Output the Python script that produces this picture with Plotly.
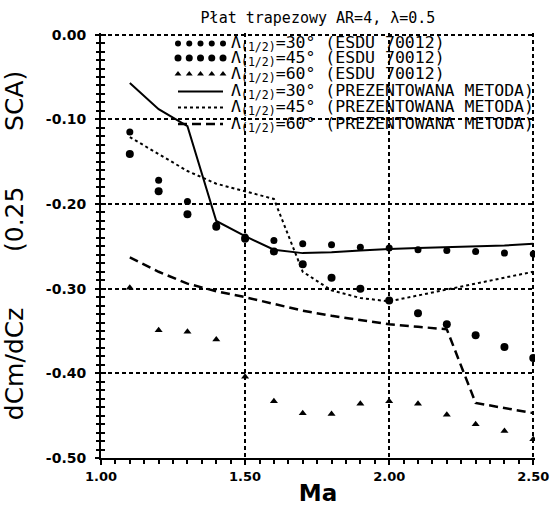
import plotly.graph_objects as go

mach = [1.1, 1.2, 1.3, 1.4, 1.5, 1.6, 1.7, 1.8, 1.9, 2.0, 2.1, 2.2, 2.3, 2.4, 2.5]

esdu_30 = [-0.115, -0.172, -0.197, -0.225, -0.239, -0.243, -0.247, -0.248,
           -0.251, -0.252, -0.254, -0.255, -0.256, -0.258, -0.259]
esdu_45 = [-0.141, -0.185, -0.212, -0.227, -0.241, -0.256, -0.271, -0.287,
           -0.300, -0.314, -0.329, -0.342, -0.355, -0.369, -0.382]
esdu_60 = [-0.299, -0.349, -0.351, -0.360, -0.404, -0.433, -0.447, -0.448,
           -0.436, -0.433, -0.436, -0.449, -0.460, -0.468, -0.478]

method_30 = [-0.057, -0.088, -0.108, -0.220, -0.238, -0.254, -0.258, -0.257,
             -0.255, -0.253, -0.252, -0.251, -0.250, -0.249, -0.247]
method_45 = [-0.121, -0.141, -0.161, -0.176, -0.185, -0.194, -0.280, -0.302,
             -0.311, -0.315, -0.308, -0.301, -0.294, -0.287, -0.280]
method_60 = [-0.263, -0.280, -0.294, -0.303, -0.310, -0.318, -0.326, -0.332,
             -0.337, -0.342, -0.345, -0.348, -0.435, -0.441, -0.447]

x_tickvals = [1.0, 1.5, 2.0, 2.5]
x_ticktext = ["1.00", "1.50", "2.00", "2.50"]
y_tickvals = [0.0, -0.1, -0.2, -0.3, -0.4, -0.5]
y_ticktext = ["0.00", "-0.10", "-0.20", "-0.30", "-0.40", "-0.50"]

sweep_labels = ["30", "45", "60", "30", "45", "60"]
source_labels = ["ESDU 70012", "ESDU 70012", "ESDU 70012",
                 "PREZENTOWANA METODA", "PREZENTOWANA METODA", "PREZENTOWANA METODA"]

NB = "\u00a0"
MONO = "DejaVu Sans Mono, monospace"
SANS = "DejaVu Sans, sans-serif"

X_RANGE = [1.0, 2.506]
Y_RANGE = [-0.5, 0.002]

# ---- legend layout (overlay axes in pixel-like units) ----
leg_rows = [43.5, 58, 74, 91.5, 107.5, 124]
leg_x0, leg_x1 = 178, 223
leg_text_x = 230

fig = go.Figure()

# data
marker_styles = [dict(symbol="circle", size=7), dict(symbol="circle", size=8),
                 dict(symbol="triangle-up", size=7)]
for vals, ms in zip([esdu_30, esdu_45, esdu_60], marker_styles):
    fig.add_trace(go.Scatter(x=mach, y=vals, mode="markers", showlegend=False,
                             marker=dict(color="black", line=dict(width=0), **ms)))
line_styles = [dict(width=2), dict(width=2, dash="3px,3px"), dict(width=2.5, dash="9px,5px")]
for vals, ls in zip([method_30, method_45, method_60], line_styles):
    fig.add_trace(go.Scatter(x=mach, y=vals, mode="lines", showlegend=False,
                             line=dict(color="black", **ls)))

# legend samples
for i, ms in enumerate(marker_styles):
    xs = [leg_x0 + k * (leg_x1 - leg_x0) / 4 for k in range(5)]
    fig.add_trace(go.Scatter(x=xs, y=[leg_rows[i]] * 5, mode="markers", showlegend=False,
                             xaxis="x2", yaxis="y2", hoverinfo="skip",
                             marker=dict(color="black", **dict(ms, size=ms["size"] - 1))))
for i, ls in enumerate(line_styles):
    fig.add_trace(go.Scatter(x=[leg_x0, leg_x1], y=[leg_rows[3 + i]] * 2, mode="lines",
                             showlegend=False, xaxis="x2", yaxis="y2", hoverinfo="skip",
                             line=dict(color="black", **ls)))

annotations = []
for i in range(6):
    annotations.append(dict(
        x=leg_text_x, y=leg_rows[i], xref="x2", yref="y2", xanchor="left", yanchor="middle",
        showarrow=False, borderpad=0,
        text=f"Λ<sub>(1/2)</sub>={sweep_labels[i]}°{NB}({source_labels[i].replace(' ', NB)})",
        font=dict(family=MONO, size=16.5, color="black")))

# dummy invisible trace to activate yaxis3 (inner ticks)
fig.add_trace(go.Scatter(x=[1.0], y=[-0.5], yaxis="y3", mode="markers", showlegend=False,
                         marker=dict(opacity=0), hoverinfo="skip"))

fig.update_layout(
    width=550, height=506,
    margin=dict(l=101, r=15, t=33, b=48, autoexpand=False),
    paper_bgcolor="white", plot_bgcolor="white",
    font=dict(family=SANS, color="black"),
    title=dict(text=f"Płat{NB}trapezowy{NB}AR=4,{NB}λ=0.5", font=dict(family=MONO, size=15, color="black"),
               xref="paper", x=0.5, xanchor="center", yref="container", y=1 - 18 / 506, yanchor="middle"),
    showlegend=False,
    hovermode=False,
    annotations=annotations,
    xaxis=dict(
        range=X_RANGE, tickvals=x_tickvals, ticktext=x_ticktext, automargin=False,
        tickfont=dict(size=13, color="black", family=SANS, weight="bold"),
        showline=True, linecolor="black", linewidth=2,
        ticks="outside", ticklen=5, tickwidth=2, tickcolor="black",
        minor=dict(dtick=0.05, ticks="outside", ticklen=4, tickwidth=1.5, tickcolor="black", showgrid=False),
        showgrid=True, gridcolor="black", gridwidth=1.5, griddash="4px,3px",
        zeroline=False,
        title=dict(text="<b>Ma</b>", font=dict(size=23, color="black", family=SANS)),
    ),
    yaxis=dict(
        range=Y_RANGE, tickvals=y_tickvals, ticktext=y_ticktext, automargin=False,
        tickfont=dict(size=14, color="black", family=SANS, weight="bold"),
        showline=True, linecolor="black", linewidth=2,
        ticks="outside", ticklen=4, tickwidth=2, tickcolor="black",
        minor=dict(dtick=0.01, ticks="outside", ticklen=3, tickwidth=1.5, tickcolor="black", showgrid=False),
        showgrid=True, gridcolor="black", gridwidth=1.5, griddash="4px,3px",
        zeroline=False, ticklabelstandoff=6,
        title=dict(text="dCm/dCz" + NB * 7 + "(0.25" + NB * 7 + "SCA)",
                   font=dict(size=25, color="black", family=SANS)),
    ),
    xaxis2=dict(overlaying="x", range=[101, 535], visible=False, fixedrange=True),
    yaxis2=dict(overlaying="y", range=[458, 33], visible=False, fixedrange=True),
    yaxis3=dict(overlaying="y", range=Y_RANGE, showticklabels=False, showgrid=False,
                zeroline=False, ticks="inside", tickvals=y_tickvals, ticklen=5, tickwidth=2,
                tickcolor="black",
                minor=dict(dtick=0.01, ticks="inside", ticklen=4, tickwidth=1.5, tickcolor="black")),
)

fig.write_html("out.html", config={"displayModeBar": False},
               post_script="document.body.style.margin='0px';")
